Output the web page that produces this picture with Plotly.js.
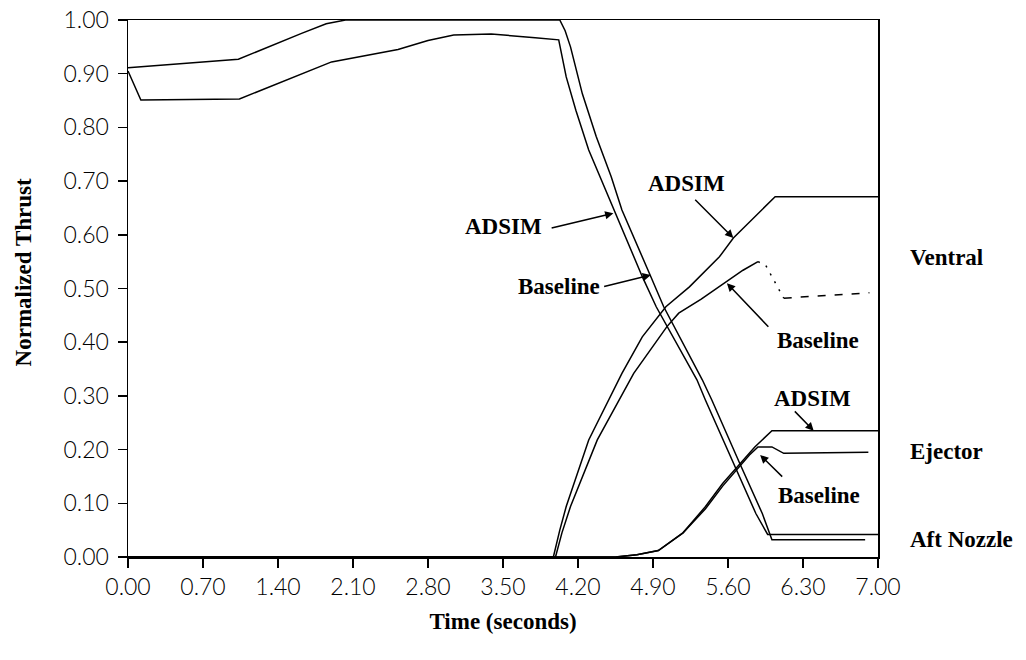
<!DOCTYPE html>
<html>
<head>
<meta charset="utf-8">
<script src="https://cdn.plot.ly/plotly-3.0.1.min.js"></script>
<style>html,body{margin:0;padding:0;background:#fff;}#chart{width:1026px;height:660px;}</style>
</head>
<body>
<div id="chart"></div>
<script>
// ---- data ----
const aftAdsimT = [0.00, 0.12, 1.04, 1.47, 1.90, 2.52, 2.80, 3.04, 3.39, 3.80, 4.02, 4.09, 4.18, 4.30, 4.46, 4.54, 4.80, 4.93, 5.31, 5.39, 5.65, 5.86, 5.97, 7.00];
const aftAdsimV = [0.905, 0.851, 0.853, 0.888, 0.922, 0.945, 0.962, 0.972, 0.974, 0.967, 0.963, 0.894, 0.832, 0.758, 0.683, 0.646, 0.522, 0.466, 0.330, 0.292, 0.174, 0.081, 0.042, 0.042];

const aftBaseT = [0.00, 1.03, 1.62, 1.85, 2.03, 4.03, 4.08, 4.13, 4.24, 4.37, 4.51, 4.61, 4.88, 5.00, 5.36, 5.45, 5.71, 5.92, 6.01, 6.88];
const aftBaseV = [0.911, 0.927, 0.975, 0.993, 1.000, 1.000, 0.980, 0.950, 0.863, 0.783, 0.708, 0.646, 0.522, 0.466, 0.330, 0.292, 0.174, 0.081, 0.032, 0.032];

const ventAdsimT = [0.00, 3.97, 4.03, 4.09, 4.30, 4.61, 4.80, 5.02, 5.24, 5.52, 5.65, 6.04, 7.00];
const ventAdsimV = [0.000, 0.000, 0.050, 0.094, 0.218, 0.342, 0.410, 0.466, 0.503, 0.559, 0.594, 0.671, 0.671];

const ventBaseT = [0.00, 3.99, 4.05, 4.13, 4.38, 4.72, 5.03, 5.14, 5.35, 5.55, 5.74, 5.88];
const ventBaseV = [0.000, 0.000, 0.045, 0.094, 0.218, 0.342, 0.429, 0.454, 0.480, 0.507, 0.534, 0.550];
const ventBaseDropT = [5.88, 5.95, 6.01, 6.07, 6.12];
const ventBaseDropV = [0.550, 0.544, 0.522, 0.500, 0.482];
const ventBaseTailT = [6.12, 6.92];
const ventBaseTailV = [0.482, 0.492];

const ejAdsimT = [0.00, 4.55, 4.75, 4.95, 5.18, 5.39, 5.55, 5.70, 5.85, 6.01, 7.00];
const ejAdsimV = [0.000, 0.000, 0.004, 0.012, 0.045, 0.094, 0.137, 0.171, 0.205, 0.235, 0.235];

const ejBaseT = [0.00, 4.55, 4.75, 4.95, 5.18, 5.39, 5.55, 5.70, 5.80, 5.88, 6.01, 6.12, 6.91];
const ejBaseV = [0.000, 0.000, 0.004, 0.012, 0.045, 0.090, 0.132, 0.166, 0.190, 0.205, 0.205, 0.193, 0.195];

const xTickVals = [0, 0.7, 1.4, 2.1, 2.8, 3.5, 4.2, 4.9, 5.6, 6.3, 7.0];
const xTickText = ["0.00", "0.70", "1.40", "2.10", "2.80", "3.50", "4.20", "4.90", "5.60", "6.30", "7.00"];
const yTickVals = [0, 0.1, 0.2, 0.3, 0.4, 0.5, 0.6, 0.7, 0.8, 0.9, 1.0];
const yTickText = ["0.00", "0.10", "0.20", "0.30", "0.40", "0.50", "0.60", "0.70", "0.80", "0.90", "1.00"];

// label texts and anchor points (data coords)
const labelTexts = ["ADSIM", "Baseline", "ADSIM", "Baseline", "ADSIM", "Baseline"];
const labelT = [3.50, 4.02, 5.21, 6.44, 6.39, 6.45];
const labelV = [0.615, 0.503, 0.696, 0.404, 0.296, 0.115];
const arrowTipT = [4.53, 4.88, 5.65, 5.59, 6.40, 5.90];
const arrowTipV = [0.640, 0.525, 0.594, 0.510, 0.235, 0.190];
const arrowTailT = [3.94, 4.43, 5.28, 5.99, 6.21, 6.12];
const arrowTailV = [0.612, 0.503, 0.668, 0.426, 0.274, 0.147];
const groupNames = ["Ventral", "Ejector", "Aft Nozzle"];
const groupV = [0.557, 0.196, 0.032];

// ---- drawing ----
const serif = "Liberation Serif, Times New Roman, serif";
const lineStyle = {color: "#000", width: 1.5};
function tr(x, y, name, dash) {
  return {x: x, y: y, type: "scatter", mode: "lines", name: name, cliponaxis: false,
          hoverinfo: "skip", line: Object.assign({}, lineStyle, dash ? {dash: dash} : {})};
}
const data = [
  tr(aftAdsimT, aftAdsimV, "Aft Nozzle ADSIM"),
  tr(aftBaseT, aftBaseV, "Aft Nozzle Baseline"),
  tr(ventAdsimT, ventAdsimV, "Ventral ADSIM"),
  tr(ventBaseT, ventBaseV, "Ventral Baseline"),
  tr(ventBaseDropT, ventBaseDropV, "Ventral Baseline (drop)", "2px,7px"),
  tr(ventBaseTailT, ventBaseTailV, "Ventral Baseline (tail)", "8px,9px"),
  tr(ejAdsimT, ejAdsimV, "Ejector ADSIM"),
  tr(ejBaseT, ejBaseV, "Ejector Baseline")
];

const textFont = {family: serif, size: 23, color: "#000", weight: "bold"};
const annotations = [];
for (let i = 0; i < labelTexts.length; i++) {
  annotations.push({x: labelT[i], y: labelV[i], xref: "x", yref: "y", text: labelTexts[i],
    showarrow: false, font: textFont});
  annotations.push({x: arrowTipT[i], y: arrowTipV[i], ax: arrowTailT[i], ay: arrowTailV[i],
    xref: "x", yref: "y", axref: "x", ayref: "y", text: "", showarrow: true,
    arrowhead: 2, arrowsize: 1.1, arrowwidth: 1.5, arrowcolor: "#000", standoff: 0, startstandoff: 0});
}
for (let i = 0; i < groupNames.length; i++) {
  annotations.push({x: 1.04, y: groupV[i], xref: "paper", yref: "y", xanchor: "left", text: groupNames[i],
    showarrow: false, font: textFont});
}
annotations.push({x: -0.140, y: 0.53, xref: "paper", yref: "paper", xanchor: "center", yanchor: "middle",
  text: "Normalized Thrust", textangle: -90, showarrow: false, font: textFont});

const tickFont = {family: "Lato, Liberation Sans, sans-serif", size: 23, color: "#000", weight: 300};
const layout = {
  width: 1026, height: 660,
  margin: {l: 128, r: 148, t: 20, b: 103},
  paper_bgcolor: "#fff", plot_bgcolor: "#fff",
  showlegend: false,
  xaxis: {range: [0, 7], tickvals: xTickVals, ticktext: xTickText, ticks: "outside", ticklen: 9,
    tickwidth: 1.5, tickcolor: "#000", showline: true, linecolor: "#000", linewidth: 1.5, mirror: true,
    showgrid: false, zeroline: false, tickfont: tickFont,
    title: {text: "Time (seconds)", font: textFont, standoff: 14}},
  yaxis: {range: [0, 1], tickvals: yTickVals, ticktext: yTickText, ticks: "outside", ticklen: 9,
    tickwidth: 1.5, tickcolor: "#000", showline: true, linecolor: "#000", linewidth: 1.5, mirror: true,
    showgrid: false, zeroline: false, tickfont: tickFont, ticklabelstandoff: 4},
  annotations: annotations
};
Plotly.newPlot("chart", data, layout, {displayModeBar: false, staticPlot: true});
</script>
</body>
</html>
